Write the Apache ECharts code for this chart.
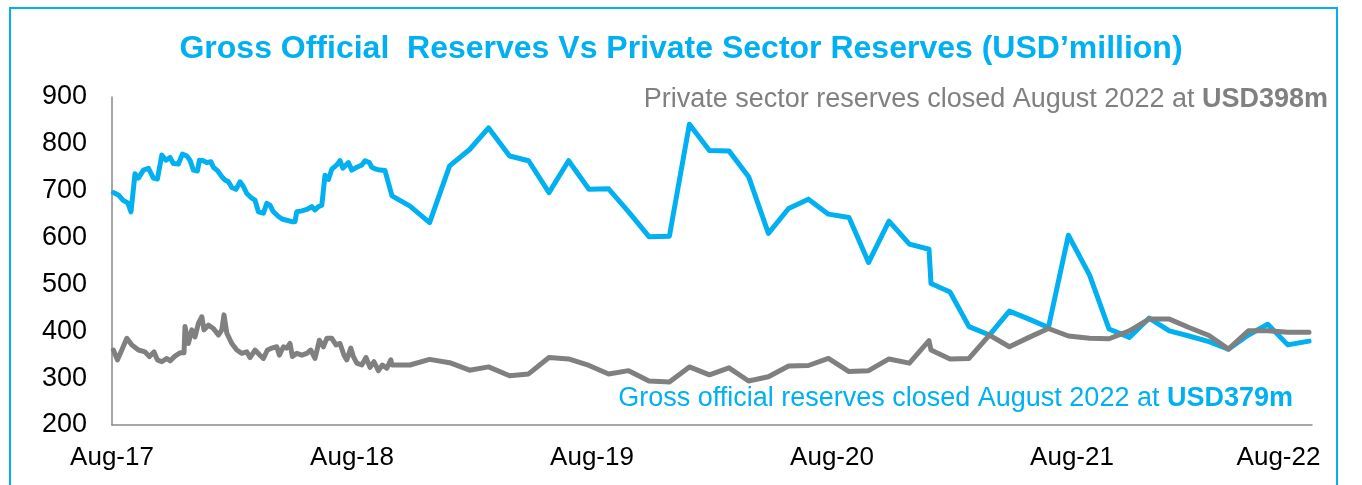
<!DOCTYPE html>
<html>
<head>
<meta charset="utf-8">
<script src="https://cdn.jsdelivr.net/npm/echarts@6/dist/echarts.min.js"></script>
<style>
html,body{margin:0;padding:0;background:#fff;}
#chart{width:1362px;height:485px;}
</style>
</head>
<body>
<div id="chart"></div>
<script>
// x positions are months elapsed since the start of Aug-2017
const xTickLabels = ['Aug-17', 'Aug-18', 'Aug-19', 'Aug-20', 'Aug-21', 'Aug-22'];

// Dense (high-frequency) part, Aug-17 .. Sep-18
const blueDenseMonths = [0.07,0.32,0.57,0.79,0.95,1.15,1.32,1.57,1.82,2.07,2.27,2.49,2.70,2.90,3.07,3.32,3.52,3.74,3.90,4.07,4.27,4.37,4.57,4.74,4.94,5.07,5.27,5.49,5.65,5.82,5.99,6.20,6.40,6.57,6.74,6.99,7.15,7.32,7.57,7.74,7.90,8.07,8.32,8.54,8.74,8.99,9.15,9.24,9.49,9.74,9.99,10.15,10.32,10.49,10.65,10.82,10.99,11.24,11.40,11.54,11.70,11.82,11.99,12.24,12.49,12.65,12.87,12.99,13.20,13.40,13.65];
const blueDenseValues = [696,691,679,674,655,736,727,744,748,727,725,776,765,771,758,757,778,774,765,744,742,765,764,760,762,750,743,730,723,719,707,703,719,709,694,684,680,655,652,673,669,655,645,639,637,634,634,655,657,660,666,659,666,669,733,724,746,755,764,748,755,760,744,750,755,764,760,750,746,744,743];

const greyDenseMonths = [0.07,0.27,0.49,0.74,0.99,1.32,1.65,1.87,2.10,2.27,2.49,2.74,2.90,3.15,3.40,3.60,3.65,3.82,3.99,4.15,4.32,4.49,4.60,4.82,5.07,5.32,5.49,5.60,5.74,5.99,6.24,6.49,6.74,6.90,7.15,7.40,7.57,7.77,7.99,8.24,8.37,8.57,8.74,8.90,9.02,9.24,9.49,9.74,9.94,10.15,10.37,10.57,10.74,10.99,11.20,11.40,11.60,11.74,11.94,12.07,12.24,12.49,12.70,12.90,13.10,13.32,13.52,13.74,13.94];
const greyDenseValues = [360,339,360,385,371,360,356,346,356,339,335,342,337,347,354,354,410,374,403,388,417,431,403,413,406,392,403,435,396,374,360,353,356,344,360,349,342,360,364,367,349,367,364,374,346,353,349,353,360,342,381,367,385,385,371,374,349,339,364,346,332,328,344,323,335,316,328,321,339];

// Monthly part, Sep-18 .. Aug-22 (shared dates)
const monthlyMonths = [14.0,14.9,15.88,16.88,17.88,18.83,19.88,20.83,21.85,22.83,23.85,24.83,25.83,26.85,27.87,28.87,29.87,30.85,31.83,32.82,33.83,34.82,35.82,36.85,37.83,38.85,39.87,40.85,40.95,41.9,42.85,43.87,44.87,45.85,46.82,47.82,48.88,49.85,50.87,51.85,52.87,53.85,54.85,55.82,56.82,57.79,58.79,59.85];
const blueMonthlyValues = [689,667,632,753,788,834,774,764,696,764,703,704,655,602,603,842,786,785,730,609,662,682,650,643,547,635,586,575,502,484,410,392,443,426,408,605,520,405,387,428,401,390,378,362,392,415,371,379];
const greyMonthlyValues = [328,328,340,333,317,324,305,309,344,341,327,309,316,294,292,324,307,322,294,303,326,327,342,314,316,341,332,380,360,341,342,392,367,387,406,390,385,384,401,426,426,408,391,362,401,401,398,398];

const seriesNames = ['Gross official reserves', 'Private sector reserves'];
const titleText = 'Gross Official  Reserves Vs Private Sector Reserves (USD\u2019million)';

function pairs(xs, vs) { return xs.map((x, i) => [x, vs[i]]); }
const blueData = pairs(blueDenseMonths, blueDenseValues).concat(pairs(monthlyMonths, blueMonthlyValues));
const greyData = pairs(greyDenseMonths, greyDenseValues).concat(pairs(monthlyMonths, greyMonthlyValues));

const BLUE = '#00B0F0';
const GREY = '#808080';
const FONT = '"Liberation Sans", Arial, sans-serif';

const chart = echarts.init(document.getElementById('chart'), null, {renderer: 'canvas'});
chart.setOption({
  animation: false,
  backgroundColor: '#ffffff',
  title: {
    text: titleText,
    left: 'center',
    top: 28,
    textStyle: {color: BLUE, fontFamily: FONT, fontWeight: 'bold', fontSize: 32}
  },
  grid: {left: 112, right: 50, top: 97, bottom: 60, containLabel: false},
  xAxis: {
    type: 'value',
    min: 0, max: 60, interval: 12,
    axisLine: {show: true, lineStyle: {color: '#898989', width: 1.5}},
    axisTick: {show: false},
    splitLine: {show: false},
    axisLabel: {
      color: '#000', fontFamily: FONT, fontSize: 26, margin: 20,
      formatter: function (v) {
        const i = Math.round(v / 12);
        if (i === xTickLabels.length - 1) return '{last|' + xTickLabels[i] + '}';
        return xTickLabels[i];
      },
      rich: {last: {color: '#000', fontFamily: FONT, fontSize: 26, padding: [0, 67, 0, 0]}}
    }
  },
  yAxis: {
    type: 'value',
    min: 200, max: 900, interval: 100,
    axisLine: {show: true, lineStyle: {color: '#898989', width: 1.5}},
    axisTick: {show: false},
    splitLine: {show: false},
    axisLabel: {color: '#000', fontFamily: FONT, fontSize: 27, margin: 25}
  },
  series: [
    {
      name: seriesNames[0], type: 'line', data: blueData, showSymbol: false, symbol: 'none',
      lineStyle: {color: BLUE, width: 5, join: 'round', cap: 'round'}, z: 2
    },
    {
      name: seriesNames[1], type: 'line', data: greyData, showSymbol: false, symbol: 'none',
      lineStyle: {color: GREY, width: 5, join: 'round', cap: 'round'}, z: 3
    }
  ],
  graphic: [
    {
      type: 'rect', silent: true, z: -1,
      shape: {x: 10, y: 8, width: 1327, height: 500},
      style: {fill: 'none', stroke: BLUE, lineWidth: 2}
    },
    {
      type: 'text', x: 1328, y: 100, z: 10,
      style: {
        text: '{n|Private sector reserves closed August 2022 at }{b|USD398m}',
        align: 'right', verticalAlign: 'middle',
        rich: {
          n: {fill: GREY, fontFamily: FONT, fontSize: 27},
          b: {fill: GREY, fontFamily: FONT, fontSize: 27, fontWeight: 'bold'}
        }
      }
    },
    {
      type: 'text', x: 1293, y: 399, z: 10,
      style: {
        text: '{n|Gross official reserves closed August 2022 at }{b|USD379m}',
        align: 'right', verticalAlign: 'middle',
        rich: {
          n: {fill: BLUE, fontFamily: FONT, fontSize: 27},
          b: {fill: BLUE, fontFamily: FONT, fontSize: 27, fontWeight: 'bold'}
        }
      }
    }
  ]
});
</script>
</body>
</html>
